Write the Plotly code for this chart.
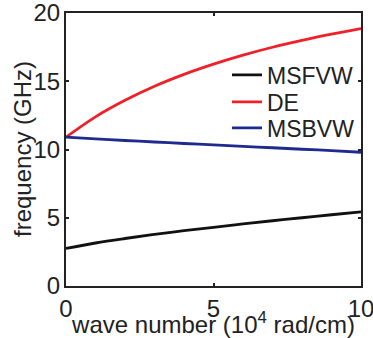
import plotly.graph_objects as go

k = [0, 1, 2, 3, 4, 5, 6, 7, 8, 9, 10]
msfvw = [2.75, 3.15, 3.48, 3.78, 4.05, 4.30, 4.55, 4.78, 5.00, 5.22, 5.43]
de = [10.9, 12.39, 13.60, 14.63, 15.50, 16.25, 16.91, 17.49, 17.99, 18.45, 18.86]
msbvw = [10.9, 10.78, 10.66, 10.55, 10.44, 10.34, 10.23, 10.13, 10.02, 9.92, 9.8]

FONT = "Liberation Sans, Arial, sans-serif"
FS = 24
LFS = 23
TXT = "#222222"
fig = go.Figure()
fig.add_trace(go.Scatter(x=k, y=msfvw, mode="lines", name="MSFVW", legend="legend",
                         line=dict(color="#111111", width=2.8, shape="spline")))
fig.add_trace(go.Scatter(x=k, y=de, mode="lines", name="DE", legend="legend2",
                         line=dict(color="#ee2028", width=2.8, shape="spline")))
fig.add_trace(go.Scatter(x=k, y=msbvw, mode="lines", name="MSBVW", legend="legend3",
                         line=dict(color="#1f2a8f", width=2.8, shape="spline")))

axis_common = dict(showgrid=False, zeroline=False, showline=True, linecolor=TXT,
                   linewidth=2, mirror="ticks", ticks="inside", ticklen=3, tickwidth=1.5,
                   tickcolor=TXT, automargin=False, ticklabeloverflow="allow",
                   tickfont=dict(family=FONT, size=FS, color=TXT))

legend_common = dict(xanchor="left", yanchor="middle", bgcolor="rgba(0,0,0,0)",
                     font=dict(family=FONT, size=LFS, color=TXT), itemwidth=30)

left, right, top, bottom = 66, 361, 13, 286
def ypos(px):
    return (bottom - px) / (bottom - top)
def xpos(px):
    return (px - left) / (right - left)

fig.update_layout(
    width=373, height=338,
    margin=dict(l=left, r=373 - right, t=top, b=338 - bottom, autoexpand=False),
    plot_bgcolor="white", paper_bgcolor="white",
    font=dict(family=FONT, size=FS, color=TXT),
    xaxis=dict(range=[0, 10], tickvals=[0, 5, 10],
               title=dict(text="wave number (10<sup>4</sup> rad/cm)", standoff=0,
                          font=dict(family=FONT, size=FS, color=TXT)),
               **axis_common),
    yaxis=dict(range=[0, 20], tickvals=[0, 5, 10, 15, 20], ticklabelstandoff=-1,
               **axis_common),
    legend=dict(x=xpos(227), y=ypos(75), **legend_common),
    legend2=dict(x=xpos(227), y=ypos(102), **legend_common),
    legend3=dict(x=xpos(227), y=ypos(128), **legend_common),
    showlegend=True,
    annotations=[dict(text="frequency (GHz)", xref="paper", yref="paper",
                      x=xpos(22), y=ypos(149), xanchor="center", yanchor="middle",
                      textangle=-90, showarrow=False,
                      font=dict(family=FONT, size=FS, color=TXT))],
)

fig.write_html("out.html")
